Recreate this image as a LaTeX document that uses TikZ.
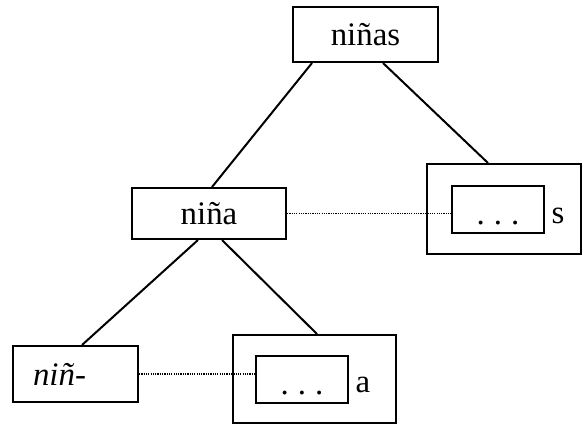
\documentclass[tikz,border=0pt]{standalone}
\usepackage{fontspec}
\setmainfont{Liberation Serif}
\begin{document}
\begin{tikzpicture}[x=1bp,y=-1bp,
  box/.style={draw,line width=2bp,rectangle,inner sep=0pt,font=\fontsize{33}{38}\selectfont},
  inbox/.style={box,minimum width=92bp,minimum height=47bp,text height=29bp,text depth=0pt},
  link/.style={line width=2bp},
  dots/.style={line width=1.6bp,dash pattern=on 1.2bp off 1.1bp},
  lab/.style={inner sep=0pt,font=\fontsize{33}{38}\selectfont}]
\useasboundingbox (0,0) rectangle (583,425);
\node[box,minimum width=145bp,minimum height=55bp] (ninas) at (365.5,34.5) {niñas};
\node[box,minimum width=154bp,minimum height=51bp] (nina) at (209,213.5) {niña};
\node[box,minimum width=154bp,minimum height=90bp] (rout) at (504,209) {};
\node[inbox] (rin) at (498,209.5) {.\hspace{9bp}.\hspace{9bp}.\hspace{8bp}};
\node[lab] (s) at (558,216) {s};
\node[box,minimum width=125bp,minimum height=56bp,text width=85bp,inner xsep=20bp,align=left] (nin) at (75.5,374) {\itshape niñ-};
\node[box,minimum width=163bp,minimum height=88bp] (bout) at (314.5,379) {};
\node[inbox] (bin) at (302,379.5) {.\hspace{9bp}.\hspace{9bp}.\hspace{8bp}};
\node[lab] (a) at (363,385) {a};
\draw[link] ([xshift=-53.5bp]ninas.south) -- ([xshift=3bp]nina.north);
\draw[link] ([xshift=17.5bp]ninas.south) -- ([xshift=-16bp]rout.north);
\draw[link] ([xshift=-11bp]nina.south) -- ([xshift=6.5bp]nin.north);
\draw[link] ([xshift=13bp]nina.south) -- ([xshift=2.5bp]bout.north);
\draw[dots] (nina.east) -- (nina.east -| rin.west);
\draw[dots] (nin.east) -- (nin.east -| bin.west);
\end{tikzpicture}
\end{document}
